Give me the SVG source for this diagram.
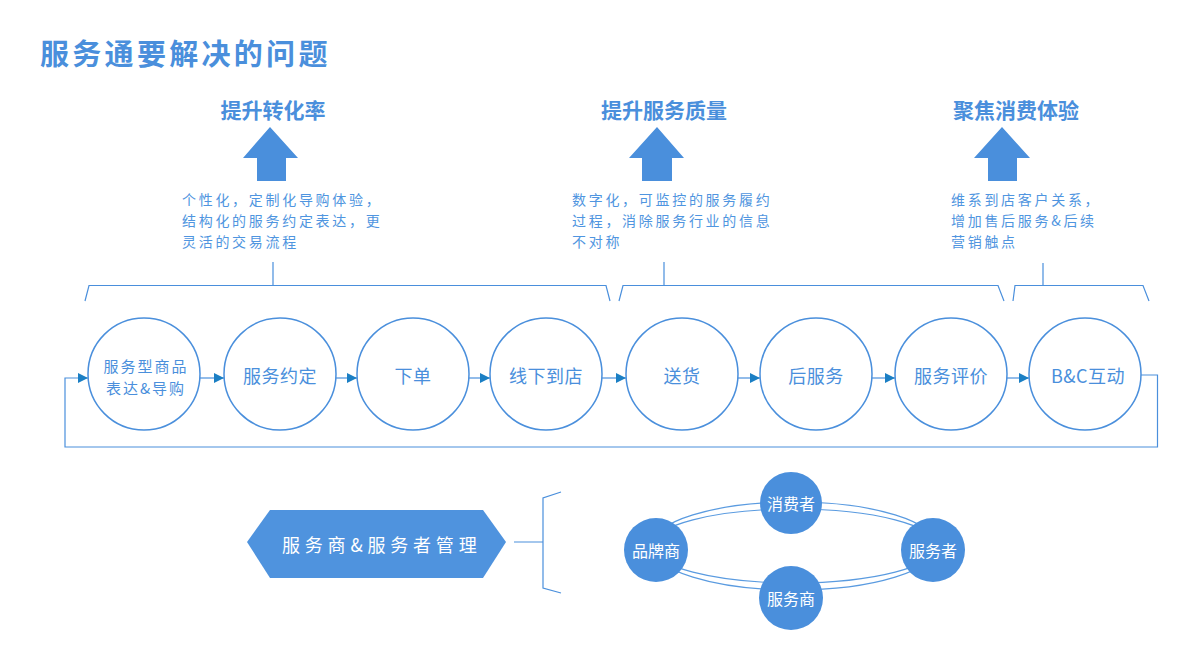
<svg xmlns="http://www.w3.org/2000/svg" width="1200" height="663" viewBox="0 0 1200 663">
<defs>
<style>
text{font-family:"Noto Sans CJK SC","Noto Sans",sans-serif;}
.title{font-size:29px;font-weight:bold;fill:#4a8fdc;letter-spacing:3.3px;}
.head{font-size:21px;font-weight:bold;fill:#4a8fdc;text-anchor:middle;}
.desc{font-size:14px;fill:#4f95e0;letter-spacing:2.7px;}
.node circle{fill:#fff;stroke:#4a8fdc;stroke-width:1.5;}
.node text{font-size:18px;fill:#4a8fdc;text-anchor:middle;letter-spacing:0.5px;}
.node text.sm{font-size:15px;letter-spacing:2px;}
.line{fill:none;stroke:#4a8fdc;stroke-width:1.2;}
.up{fill:#4a8fdc;}
.dot circle{fill:#4a8fdc;}
.dot text{font-size:16px;fill:#fff;text-anchor:middle;}
.ring{fill:none;stroke:#5a9be0;stroke-width:1.2;}
</style>
<marker id="arr" markerUnits="userSpaceOnUse" markerWidth="10" markerHeight="10" refX="10" refY="5" orient="auto">
<path d="M0,0 L10,5 L0,10 z" fill="#1b7fc4"/>
</marker>
</defs>
<rect width="1200" height="663" fill="#fff"/>

<text class="title" x="40" y="65">服务通要解决的问题</text>

<g id="goal1">
<text class="head" x="273" y="118">提升转化率</text>
<path class="up" d="M270,127 L298,158 L286,158 L286,181 L257,181 L257,158 L243,158 z"/>
<text class="desc" x="182" y="205">个性化，定制化导购体验，</text>
<text class="desc" x="182" y="226">结构化的服务约定表达，更</text>
<text class="desc" x="182" y="247">灵活的交易流程</text>
</g>
<g id="goal2">
<text class="head" x="664" y="118">提升服务质量</text>
<path class="up" d="M657,127 L684,158 L672,158 L672,181 L642,181 L642,158 L629,158 z"/>
<text class="desc" x="572" y="205">数字化，可监控的服务履约</text>
<text class="desc" x="572" y="226">过程，消除服务行业的信息</text>
<text class="desc" x="572" y="247">不对称</text>
</g>
<g id="goal3">
<text class="head" x="1016" y="118">聚焦消费体验</text>
<path class="up" d="M1002,127 L1030,158 L1017,158 L1017,181 L988,181 L988,158 L974,158 z"/>
<text class="desc" x="951" y="205">维系到店客户关系，</text>
<text class="desc" x="951" y="226">增加售后服务&amp;后续</text>
<text class="desc" x="951" y="247">营销触点</text>
</g>

<g id="brackets">
<path class="line" d="M85,301 L89,285.5 L606,285.5 L610,301 M273,262 L273,285.5"/>
<path class="line" d="M619,301 L623,285.5 L998,285.5 L1004,301 M664,262 L664,285.5"/>
<path class="line" d="M1013,301 L1015,285.5 L1143,285.5 L1149,301 M1043,263 L1043,285.5"/>
</g>

<g id="connectors">
<path class="line" d="M200,378 L224,378" marker-end="url(#arr)"/>
<path class="line" d="M336,378 L357,378" marker-end="url(#arr)"/>
<path class="line" d="M469,378 L490,378" marker-end="url(#arr)"/>
<path class="line" d="M602,378 L626,378" marker-end="url(#arr)"/>
<path class="line" d="M738,378 L760,378" marker-end="url(#arr)"/>
<path class="line" d="M872,378 L895,378" marker-end="url(#arr)"/>
<path class="line" d="M1007,378 L1029,378" marker-end="url(#arr)"/>
<path class="line" d="M1141,375 L1157.5,375 L1157.5,447 L65,447 L65,378 L88,378" marker-end="url(#arr)"/>
<path class="line" d="M514,542 L543,542 M561,492 L543,498 L543,588 L561,593"/>
</g>

<g id="n1" class="node"><circle cx="144" cy="374" r="56"/><text class="sm" x="146" y="372">服务型商品</text><text class="sm" x="146" y="394">表达&amp;导购</text></g>
<g id="n2" class="node"><circle cx="280" cy="374" r="56"/><text x="280" y="383">服务约定</text></g>
<g id="n3" class="node"><circle cx="413" cy="374" r="56"/><text x="413" y="383">下单</text></g>
<g id="n4" class="node"><circle cx="546" cy="374" r="56"/><text x="546" y="383">线下到店</text></g>
<g id="n5" class="node"><circle cx="682" cy="374" r="56"/><text x="682" y="383">送货</text></g>
<g id="n6" class="node"><circle cx="816" cy="374" r="56"/><text x="816" y="383">后服务</text></g>
<g id="n7" class="node"><circle cx="951" cy="374" r="56"/><text x="951" y="383">服务评价</text></g>
<g id="n8" class="node"><circle cx="1085" cy="374" r="56"/><text x="1088" y="383">B&amp;C互动</text></g>

<g id="manage">
<path d="M247,542 L270,510 L483,510 L506,542 L483,578 L270,578 z" fill="#4f93de"/>
<text x="282" y="552" style="font-size:18px;fill:#fff;letter-spacing:4.8px;">服务商&amp;服务者管理</text>
</g>

<g id="rings">
<ellipse class="ring" cx="794" cy="546" rx="143" ry="44"/>
<ellipse class="ring" cx="794" cy="546" rx="143" ry="37"/>
</g>
<g id="c1" class="dot"><circle cx="791" cy="503" r="31"/><text x="791" y="510">消费者</text></g>
<g id="c2" class="dot"><circle cx="656" cy="550" r="32"/><text x="656" y="557">品牌商</text></g>
<g id="c3" class="dot"><circle cx="933" cy="550" r="32"/><text x="933" y="557">服务者</text></g>
<g id="c4" class="dot"><circle cx="791" cy="598" r="32"/><text x="791" y="605">服务商</text></g>
</svg>
